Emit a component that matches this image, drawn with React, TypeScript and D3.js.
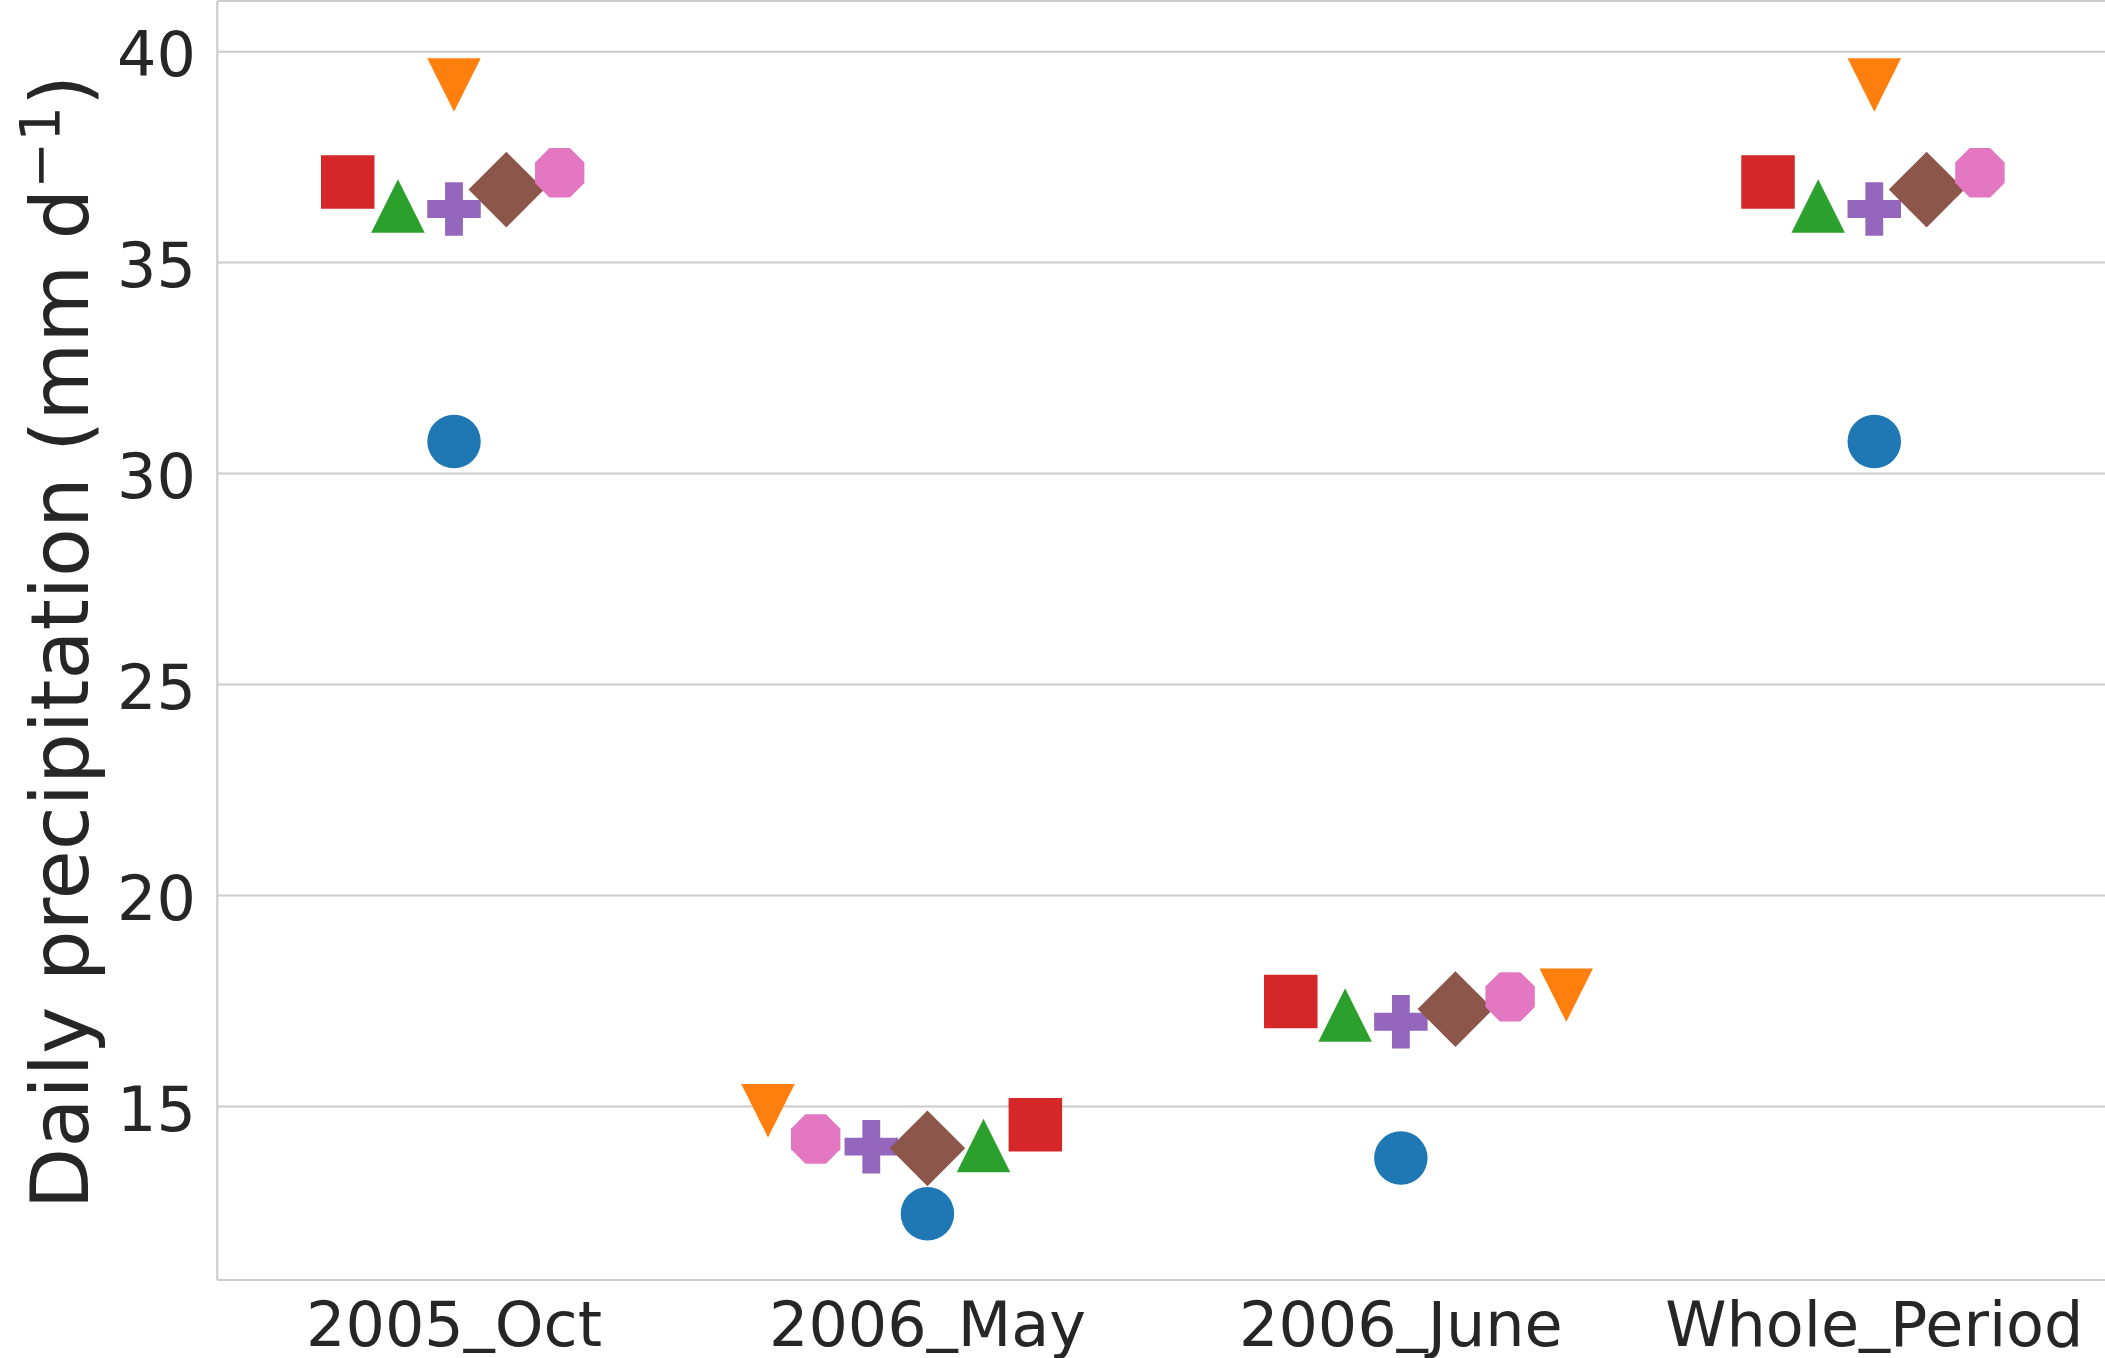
import React from 'react';
import * as d3 from 'd3';

const categories = ['2005_Oct', '2006_May', '2006_June', 'Whole_Period'];
const seriesColors = ['#1f77b4', '#ff7f0e', '#2ca02c', '#d62728', '#9467bd', '#8c564b', '#e377c2'];
const seriesMarkers = ['circle', 'triangleDown', 'triangleUp', 'square', 'plus', 'diamond', 'octagon'];
const seriesBlue = [30.76, 12.46, 13.78, 30.76];
const seriesOrange = [39.21, 14.9, 17.64, 39.21];
const seriesGreen = [36.34, 14.08, 17.17, 36.34];
const seriesRed = [36.91, 14.57, 17.49, 36.91];
const seriesPurple = [36.27, 14.05, 17.01, 36.27];
const seriesBrown = [36.73, 14.01, 17.31, 36.73];
const seriesPink = [37.13, 14.23, 17.6, 37.13];
const seriesValues = [seriesBlue, seriesOrange, seriesGreen, seriesRed, seriesPurple, seriesBrown, seriesPink];
const yTicks = [15, 20, 25, 30, 35, 40];
const yLabel = 'Daily precipitation (mm d';

const W = 2105;
const H = 1358;
const M = { left: 217.3, right: 2111, top: 1, bottom: 1280 };
const S = 53.5; // marker size (px)
const TEXT = '#262626';
const GRID = '#cccccc';
const FONT = "'DejaVu Sans', sans-serif";

type XYR = { x: number; y: number; r: number; idx: number };

// seaborn-style beeswarm in pixel space (y pointing up)
function beeswarm(points: XYR[]): XYR[] {
  const sorted = points.slice().sort((a, b) => a.y - b.y);
  if (!sorted.length) return [];
  const midline = sorted[0].x;
  const swarm: XYR[] = [sorted[0]];
  for (let k = 1; k < sorted.length; k++) {
    const p = sorted[k];
    const neighbors: XYR[] = [];
    for (let j = swarm.length - 1; j >= 0; j--) {
      const q = swarm[j];
      if (p.y - q.y < p.r + q.r) neighbors.push(q);
      else break;
    }
    neighbors.reverse();
    const cands: XYR[] = [{ ...p }];
    let leftFirst = true;
    for (const q of neighbors) {
      const dy = p.y - q.y;
      const dx = Math.sqrt(Math.max((p.r + q.r) ** 2 - dy * dy, 0)) * 1.05;
      const cl = { ...p, x: q.x - dx };
      const cr = { ...p, x: q.x + dx };
      if (leftFirst) cands.push(cl, cr);
      else cands.push(cr, cl);
      leftFirst = !leftFirst;
    }
    const order = cands
      .map((c, i) => ({ c, i, o: Math.abs(c.x - midline) }))
      .sort((a, b) => a.o - b.o || a.i - b.i)
      .map((d) => d.c);
    let chosen = order[0];
    if (neighbors.length) {
      for (const c of order) {
        const ok = neighbors.every((q) => (q.x - c.x) ** 2 + (q.y - c.y) ** 2 >= (q.r + c.r) ** 2);
        if (ok) {
          chosen = c;
          break;
        }
      }
    }
    swarm.push(chosen);
  }
  return swarm;
}

function markerPath(type: string, s: number): string {
  const h = s / 2;
  const p = d3.path();
  if (type === 'square') {
    p.rect(-h, -h, s, s);
  } else if (type === 'triangleUp') {
    p.moveTo(0, -h); p.lineTo(h, h); p.lineTo(-h, h); p.closePath();
  } else if (type === 'triangleDown') {
    p.moveTo(0, h); p.lineTo(-h, -h); p.lineTo(h, -h); p.closePath();
  } else if (type === 'diamond') {
    const d = s * Math.SQRT1_2;
    p.moveTo(0, -d); p.lineTo(d, 0); p.lineTo(0, d); p.lineTo(-d, 0); p.closePath();
  } else if (type === 'plus') {
    const a = s / 6;
    p.moveTo(-a, -h); p.lineTo(a, -h); p.lineTo(a, -a); p.lineTo(h, -a); p.lineTo(h, a);
    p.lineTo(a, a); p.lineTo(a, h); p.lineTo(-a, h); p.lineTo(-a, a); p.lineTo(-h, a);
    p.lineTo(-h, -a); p.lineTo(-a, -a); p.closePath();
  } else if (type === 'octagon') {
    for (let k = 0; k < 8; k++) {
      const ang = ((22.5 + 45 * k) * Math.PI) / 180;
      const x = h * Math.cos(ang);
      const y = h * Math.sin(ang);
      if (k === 0) p.moveTo(x, y); else p.lineTo(x, y);
    }
    p.closePath();
  } else {
    p.arc(0, 0, h, 0, Math.PI * 2);
    p.closePath();
  }
  return p.toString();
}

function TickLabel({ label, x, y }: { label: string; x: number; y: number }) {
  const parts = label.split('_');
  return (
    <text x={x} y={y} textAnchor="middle" fontSize={62} fill={TEXT}>
      {parts.map((part, i) => (
        <React.Fragment key={i}>
          {i > 0 && <tspan dy={-8}>_</tspan>}
          {i > 0 ? <tspan dy={8}>{part}</tspan> : part}
        </React.Fragment>
      ))}
    </text>
  );
}

export default function App() {
  const x = d3.scaleLinear().domain([-0.5, categories.length - 0.5]).range([M.left, M.right]);
  const y = d3.scaleLinear().domain([10.89, 41.2]).range([M.bottom, M.top]);

  const marks: { cx: number; cy: number; s: number }[] = [];
  categories.forEach((_, ci) => {
    const pts: XYR[] = seriesValues.map((vals, si) => ({
      x: x(ci),
      y: -y(vals[ci]),
      r: S / 2,
      idx: si,
    }));
    const swarm = beeswarm(pts);
    swarm.forEach((p) => marks.push({ cx: p.x, cy: -p.y, s: p.idx }));
  });
  marks.sort((a, b) => a.s - b.s);

  return (
    <svg width={W} height={H} style={{ position: 'absolute', left: 0, top: 0, background: '#fff' }} fontFamily={FONT}>
      <rect x={0} y={0} width={W} height={H} fill="#ffffff" />
      {yTicks.map((t) => (
        <line key={'g' + t} x1={M.left} x2={M.right} y1={y(t)} y2={y(t)} stroke={GRID} strokeWidth={2} />
      ))}
      <line x1={M.left} x2={M.left} y1={M.top} y2={M.bottom} stroke={GRID} strokeWidth={2.2} />
      <line x1={M.left} x2={M.right} y1={M.bottom} y2={M.bottom} stroke={GRID} strokeWidth={2.2} />
      <line x1={M.left} x2={M.right} y1={M.top} y2={M.top} stroke={GRID} strokeWidth={2.2} />
      {yTicks.map((t) => (
        <text key={'t' + t} x={196} y={y(t) + 24} textAnchor="end" fontSize={62} fill={TEXT}>
          {t}
        </text>
      ))}
      {categories.map((c, i) => (
        <TickLabel key={c} label={c} x={x(i)} y={1346} />
      ))}
      <text
        transform={`translate(88, 642) rotate(-90)`}
        textAnchor="middle"
        fontSize={80}
        fill={TEXT}
      >
        {yLabel}
        <tspan fontSize={56} dy={-29.5}>−1</tspan>
        <tspan dy={29.5}>)</tspan>
      </text>
      {marks.map((m, i) => (
        <path
          key={i}
          transform={`translate(${m.cx},${m.cy})`}
          d={markerPath(seriesMarkers[m.s], S)}
          fill={seriesColors[m.s]}
        />
      ))}
    </svg>
  );
}
